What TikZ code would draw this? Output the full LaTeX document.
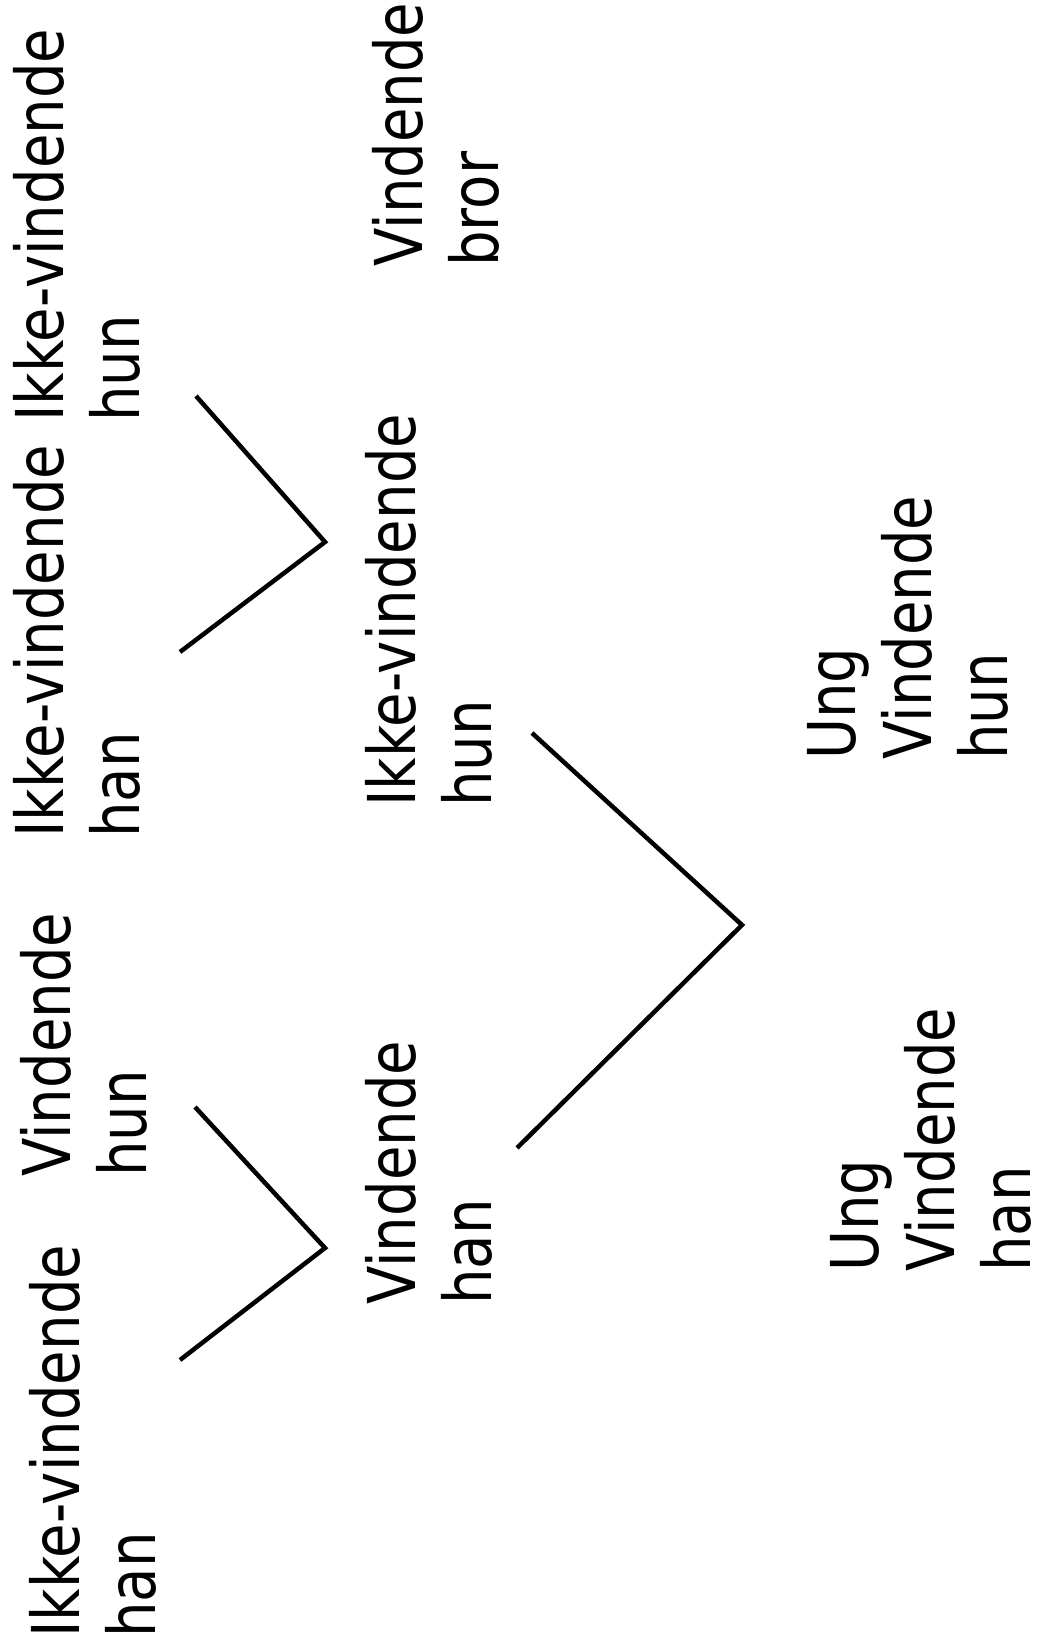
\documentclass[tikz,border=0pt]{standalone}
\usepackage{fontspec}
\setmainfont[FakeStretch=0.85]{DejaVu Sans}
\usepackage{tikz}
\tikzset{
  lbl/.style={ rotate=90, anchor=north west, inner sep=0pt, text depth=0pt, align=left, font=\fontsize{66}{76}\selectfont }
}
\tikzset{
  vline/.style={ line width=4.5pt, line join=miter }
}
\begin{document}
\begin{tikzpicture}[x=1pt, y=1pt]
      \useasboundingbox (0, 0) rectangle (1048, 1652);

      % first round
      \node[lbl] (hanA) at (29, 14) {Ikke-vindende\\han};
      \node[lbl] (hunA) at (20, 475) {Vindende\\hun};
      \node[lbl] (hanB) at (13, 814) {Ikke-vindende\\han};
      \node[lbl] (hunB) at (13, 1230) {Ikke-vindende\\hun};

      % second round
      \node[lbl] (vinHan) at (365, 347) {Vindende\\han};
      \node[lbl] (ikkeHun) at (365, 845) {Ikke-vindende\\hun};
      \node[lbl] (bror) at (372, 1385) {Vindende\\bror};

      % third round
      \node[lbl] (ungHan) at (830, 380) {Ung\\Vindende\\han};
      \node[lbl] (ungHun) at (807, 892) {Ung\\Vindende\\hun};

      \coordinate (lowTop) at (195, 545);
      \coordinate (lowTip) at (325, 404);
      \coordinate (lowEnd) at (180, 292);
      \coordinate (upTop) at (196, 1256);
      \coordinate (upTip) at (325, 1110);
      \coordinate (upEnd) at (180, 1000);
      \coordinate (bigTop) at (532, 919);
      \coordinate (bigTip) at (742, 727);
      \coordinate (bigEnd) at (517, 504);

      \draw[vline] (lowTop) -- (lowTip) -- (lowEnd);
      \draw[vline] (upTop) -- (upTip) -- (upEnd);
      \draw[vline] (bigTop) -- (bigTip) -- (bigEnd);
    \end{tikzpicture}
\end{document}
